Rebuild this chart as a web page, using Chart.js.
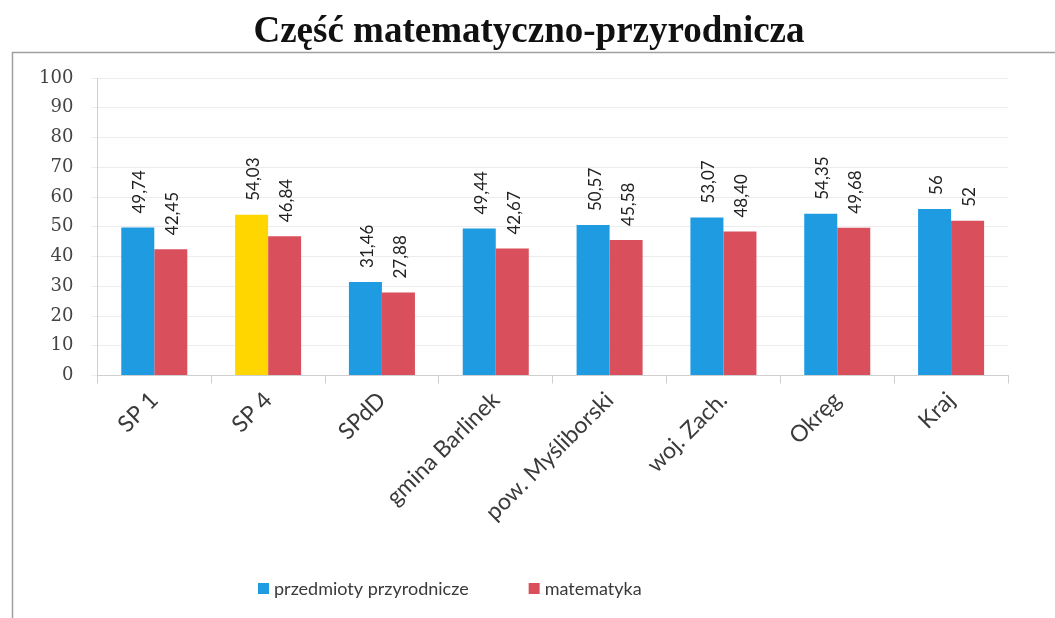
<!DOCTYPE html>
<html>
<head>
<meta charset="utf-8">
<script src="https://cdn.jsdelivr.net/npm/chart.js@4.4.1/dist/chart.umd.min.js"></script>
<style>
  html, body { margin: 0; padding: 0; background: #fff; }
  #wrap { width: 1055px; height: 618px; position: relative; }
</style>
</head>
<body>
<div id="wrap"><canvas id="chart" width="1055" height="618"></canvas></div>
<script>
// dane wykresu
const categories = ['SP 1', 'SP 4', 'SPdD', 'gmina Barlinek', 'pow. Myśliborski', 'woj. Zach.', 'Okręg', 'Kraj'];
const przyrodnicze = [49.74, 54.03, 31.46, 49.44, 50.57, 53.07, 54.35, 56];
const matematyka = [42.45, 46.84, 27.88, 42.67, 45.58, 48.40, 49.68, 52];
const seriesNames = ['przedmioty przyrodnicze', 'matematyka'];
const yTicks = [0, 10, 20, 30, 40, 50, 60, 70, 80, 90, 100];

const BLUE = '#1f9be2';
const RED = '#d9505c';
const YELLOW = '#ffd600';

// SP 4 wyróżnione na żółto
const blueColors = categories.map(c => c === 'SP 4' ? YELLOW : BLUE);

function fmt(v) {
    return Number.isInteger(v) ? String(v) : v.toFixed(2).replace('.', ',');
}

// tytuł, ramka, etykiety wartości i legenda
const decorPlugin = {
    id: 'decor',
    beforeDraw(chart) {
        const ctx = chart.ctx;
        ctx.save();
        ctx.strokeStyle = '#a0a0a0';
        ctx.lineWidth = 1.5;
        ctx.beginPath();
        ctx.moveTo(12.5, 618);
        ctx.lineTo(12.5, 52.5);
        ctx.lineTo(1055, 52.5);
        ctx.stroke();

        ctx.fillStyle = '#111';
        ctx.font = 'bold 37px "Liberation Serif"';
        ctx.textAlign = 'center';
        ctx.textBaseline = 'alphabetic';
        ctx.fillText('Część matematyczno-przyrodnicza', 529, 42);
        ctx.restore();
    },
    afterDatasetsDraw(chart) {
        const ctx = chart.ctx;
        ctx.save();
        ctx.fillStyle = '#222';
        ctx.font = '17px Lato';
        ctx.textAlign = 'left';
        ctx.textBaseline = 'middle';
        chart.data.datasets.forEach((ds, i) => {
            chart.getDatasetMeta(i).data.forEach((bar, j) => {
                ctx.save();
                ctx.translate(bar.x + 2, bar.y - 14);
                ctx.rotate(-Math.PI / 2);
                ctx.fillText(fmt(ds.data[j]), 0, 0);
                ctx.restore();
            });
        });
        ctx.restore();
    },
    afterDraw(chart) {
        const ctx = chart.ctx;
        ctx.save();
        ctx.font = '18px Lato';
        ctx.textBaseline = 'middle';
        ctx.textAlign = 'left';
        const colors = [BLUE, RED];
        let x = 258;
        const y = 589;
        seriesNames.forEach((name, i) => {
            ctx.fillStyle = colors[i];
            ctx.fillRect(x, y - 6, 11, 11);
            ctx.fillStyle = '#3a3a3a';
            ctx.fillText(name, x + 16, y);
            x += 16 + ctx.measureText(name).width + 60;
        });
        ctx.restore();
    }
};

const ctx = document.getElementById('chart').getContext('2d');
new Chart(ctx, {
    type: 'bar',
    data: {
        labels: categories,
        datasets: [{
            label: seriesNames[0],
            data: przyrodnicze,
            backgroundColor: blueColors
        }, {
            label: seriesNames[1],
            data: matematyka,
            backgroundColor: RED
        }]
    },
    options: {
        responsive: false,
        animation: false,
        layout: {
            padding: { top: 78, left: 21, right: 47, bottom: 89 }
        },
        categoryPercentage: 0.58,
        barPercentage: 1.0,
        plugins: {
            legend: { display: false },
            title: { display: false },
            tooltip: { enabled: false }
        },
        scales: {
            x: {
                grid: { display: true, drawOnChartArea: false, offset: true, color: '#cfcfcf', tickLength: 8 },
                border: { color: '#cfcfcf' },
                ticks: {
                    minRotation: 45,
                    maxRotation: 45,
                    color: '#3a3a3a',
                    font: { family: 'Lato', size: 23 }
                }
            },
            y: {
                min: 0,
                max: 100,
                afterBuildTicks(scale) {
                    scale.ticks = yTicks.map(v => ({ value: v }));
                },
                grid: { color: '#ececec', tickLength: 6 },
                border: { color: '#cfcfcf' },
                ticks: {
                    padding: 18,
                    color: '#444',
                    font: { family: 'DejaVu Serif', size: 18 }
                }
            }
        }
    },
    plugins: [decorPlugin]
});
</script>
</body>
</html>
